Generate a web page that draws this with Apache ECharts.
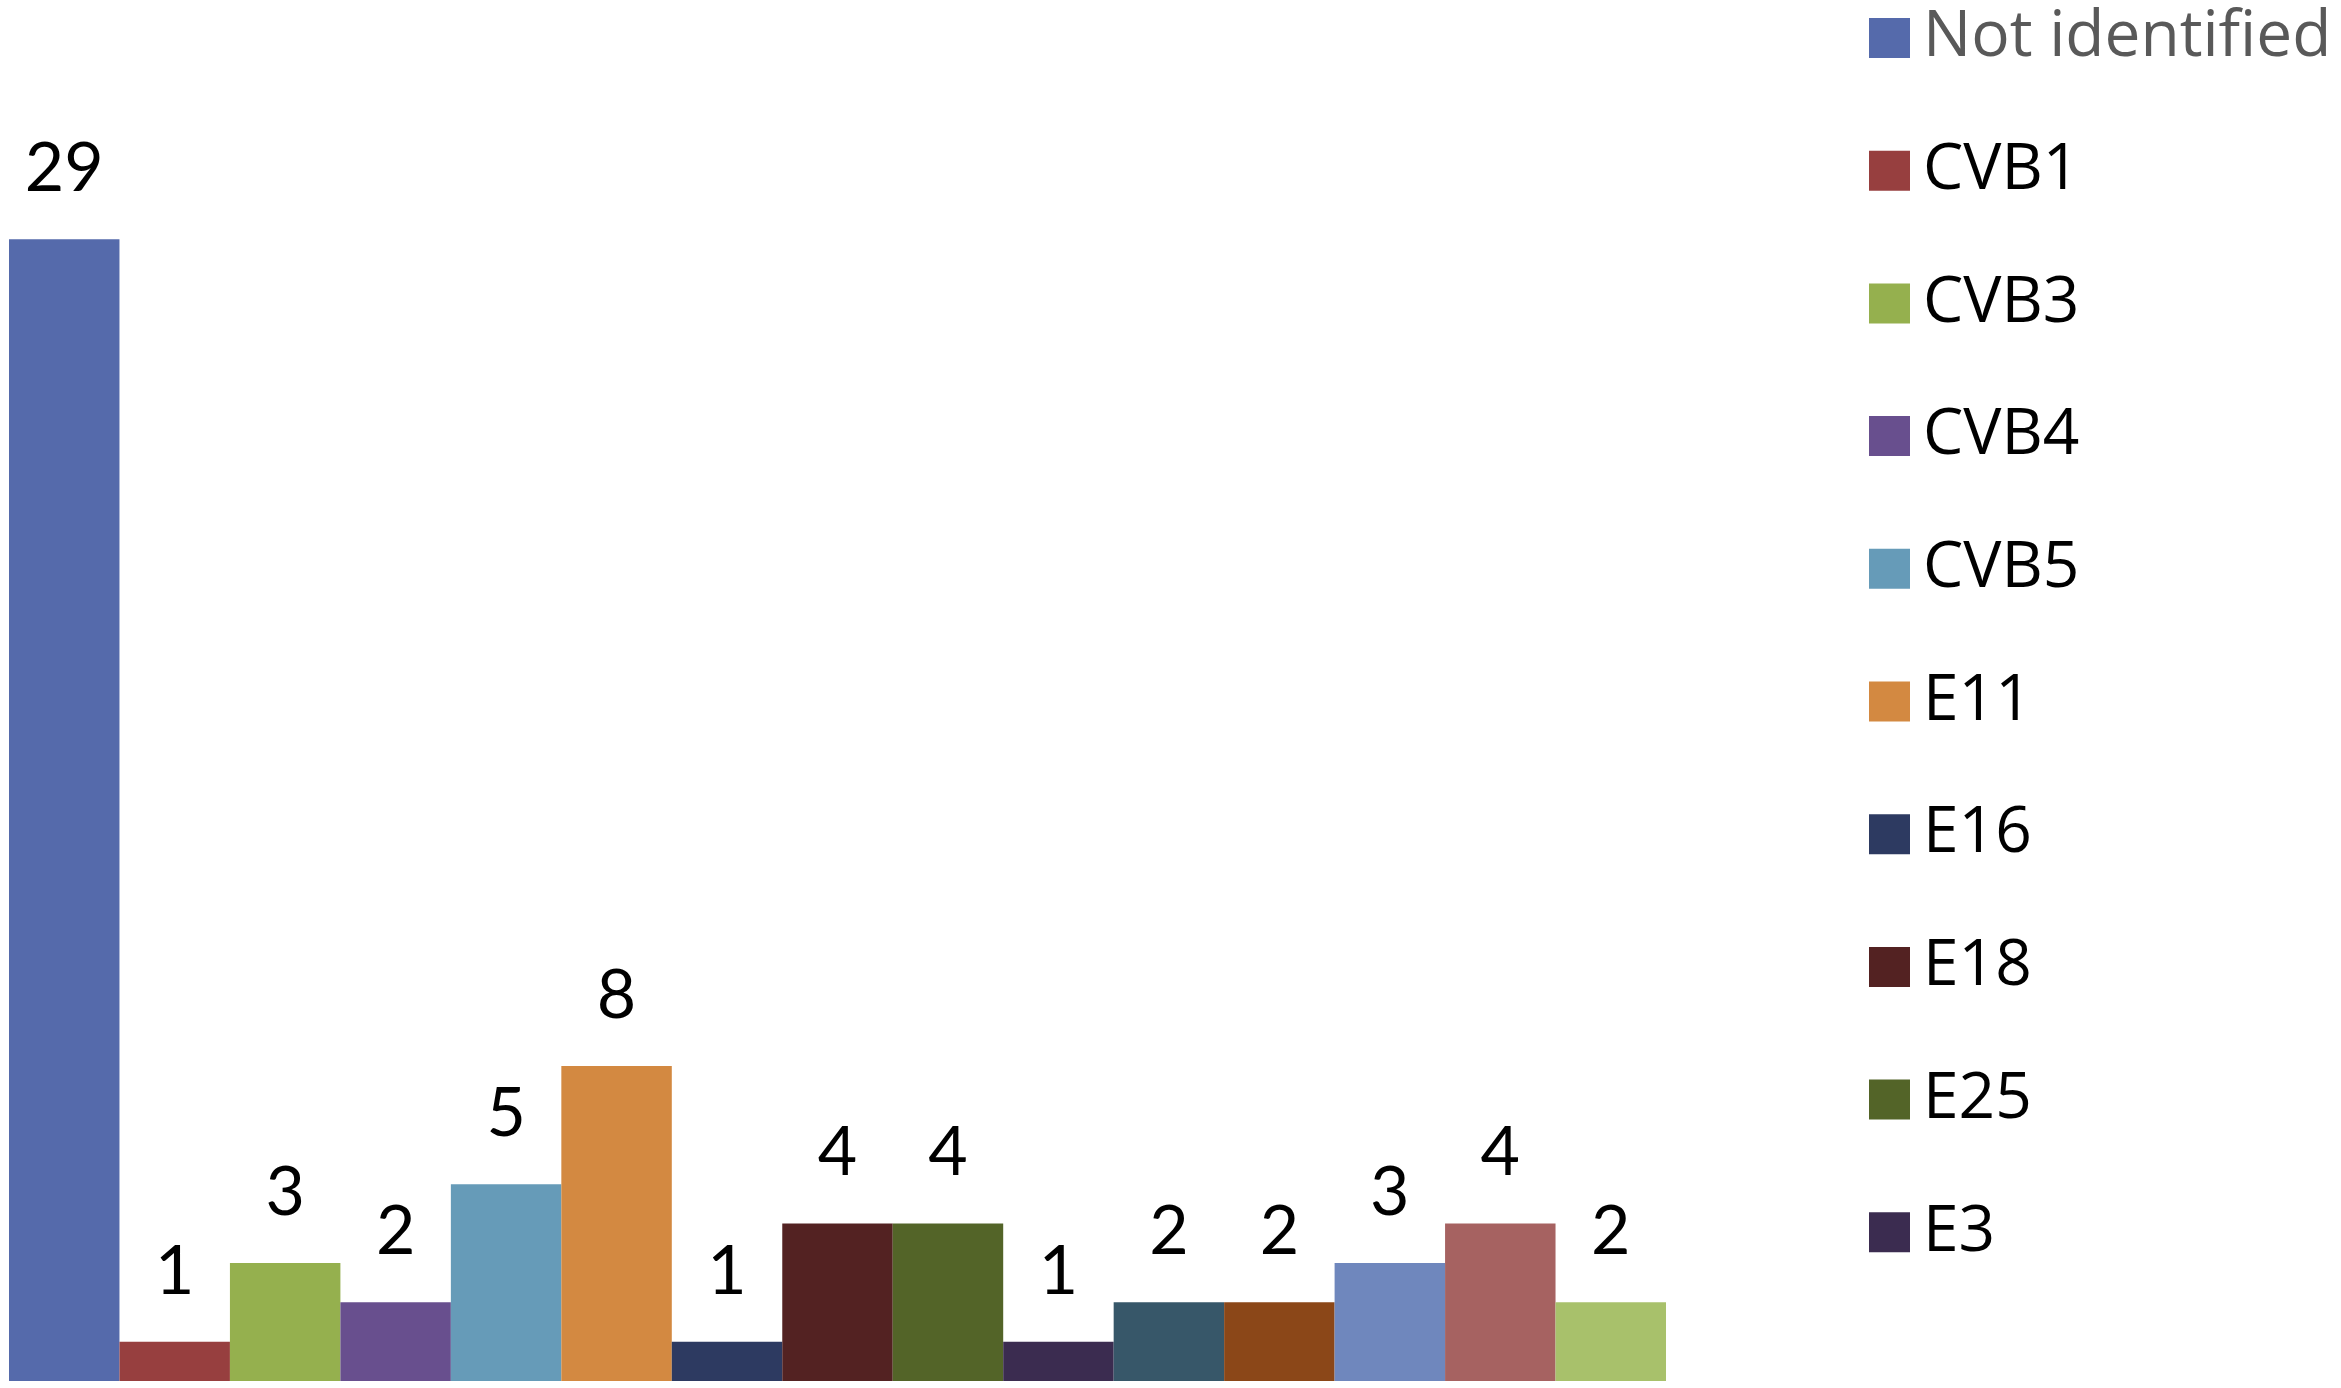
<!DOCTYPE html>
<html>
<head>
<meta charset="utf-8">
<script src="https://cdn.jsdelivr.net/npm/echarts@6/dist/echarts.min.js"></script>
<style>
html,body{margin:0;padding:0;background:#fff;}
#chart{width:2341px;height:1388px;}
</style>
</head>
<body>
<div id="chart"></div>
<script>
// Data
const seriesNames = ["Not identified","CVB1","CVB3","CVB4","CVB5","E11","E16","E18","E25","E3","Type 11","Type 12","Type 13","Type 14","Type 15"];
const seriesValues = [29,1,3,2,5,8,1,4,4,1,2,2,3,4,2];
const legendShown = ["Not identified","CVB1","CVB3","CVB4","CVB5","E11","E16","E18","E25","E3"];
const categories = ["Serotype"];
const colors = ["#556AAB","#973F3F","#95B04E","#684F8E","#669BB8","#D38941","#2D3A61","#532222","#536428","#3B2C50","#375769","#8B4718","#6F87BD","#A66261","#A8C16B"];

const chart = echarts.init(document.getElementById('chart'), null, {renderer:'canvas'});
const series = seriesNames.map((n,i)=>({
  name:n,
  type:'bar',
  data:[seriesValues[i]],
  barGap:'0%',
  barCategoryGap:'0%',
  itemStyle:{color:colors[i]},
  label:{show:true,position:'top',distance:36,color:'#000',fontFamily:'Lato',fontSize:68,lineHeight:68},
  emphasis:{disabled:true}
}));
chart.setOption({
  animation:false,
  color:colors,
  grid:{left:9,right:675,top:200,bottom:7,containLabel:false},
  xAxis:{type:'category',data:categories,show:false},
  yAxis:{type:'value',min:0,max:30,show:false,splitLine:{show:false}},
  legend:{
    orient:'vertical',
    left:1864,
    top:1,
    itemWidth:41,
    itemHeight:40,
    itemGap:68.7,
    icon:'rect',
    selectedMode:false,
    textStyle:{fontFamily:'Open Sans',fontSize:64,color:'#000',padding:[0,0,0,8]},
    data:legendShown.map((n,i)=> i===0 ? {name:n,textStyle:{color:'#595959'}} : {name:n})
  },
  series:series
});
</script>
</body>
</html>
